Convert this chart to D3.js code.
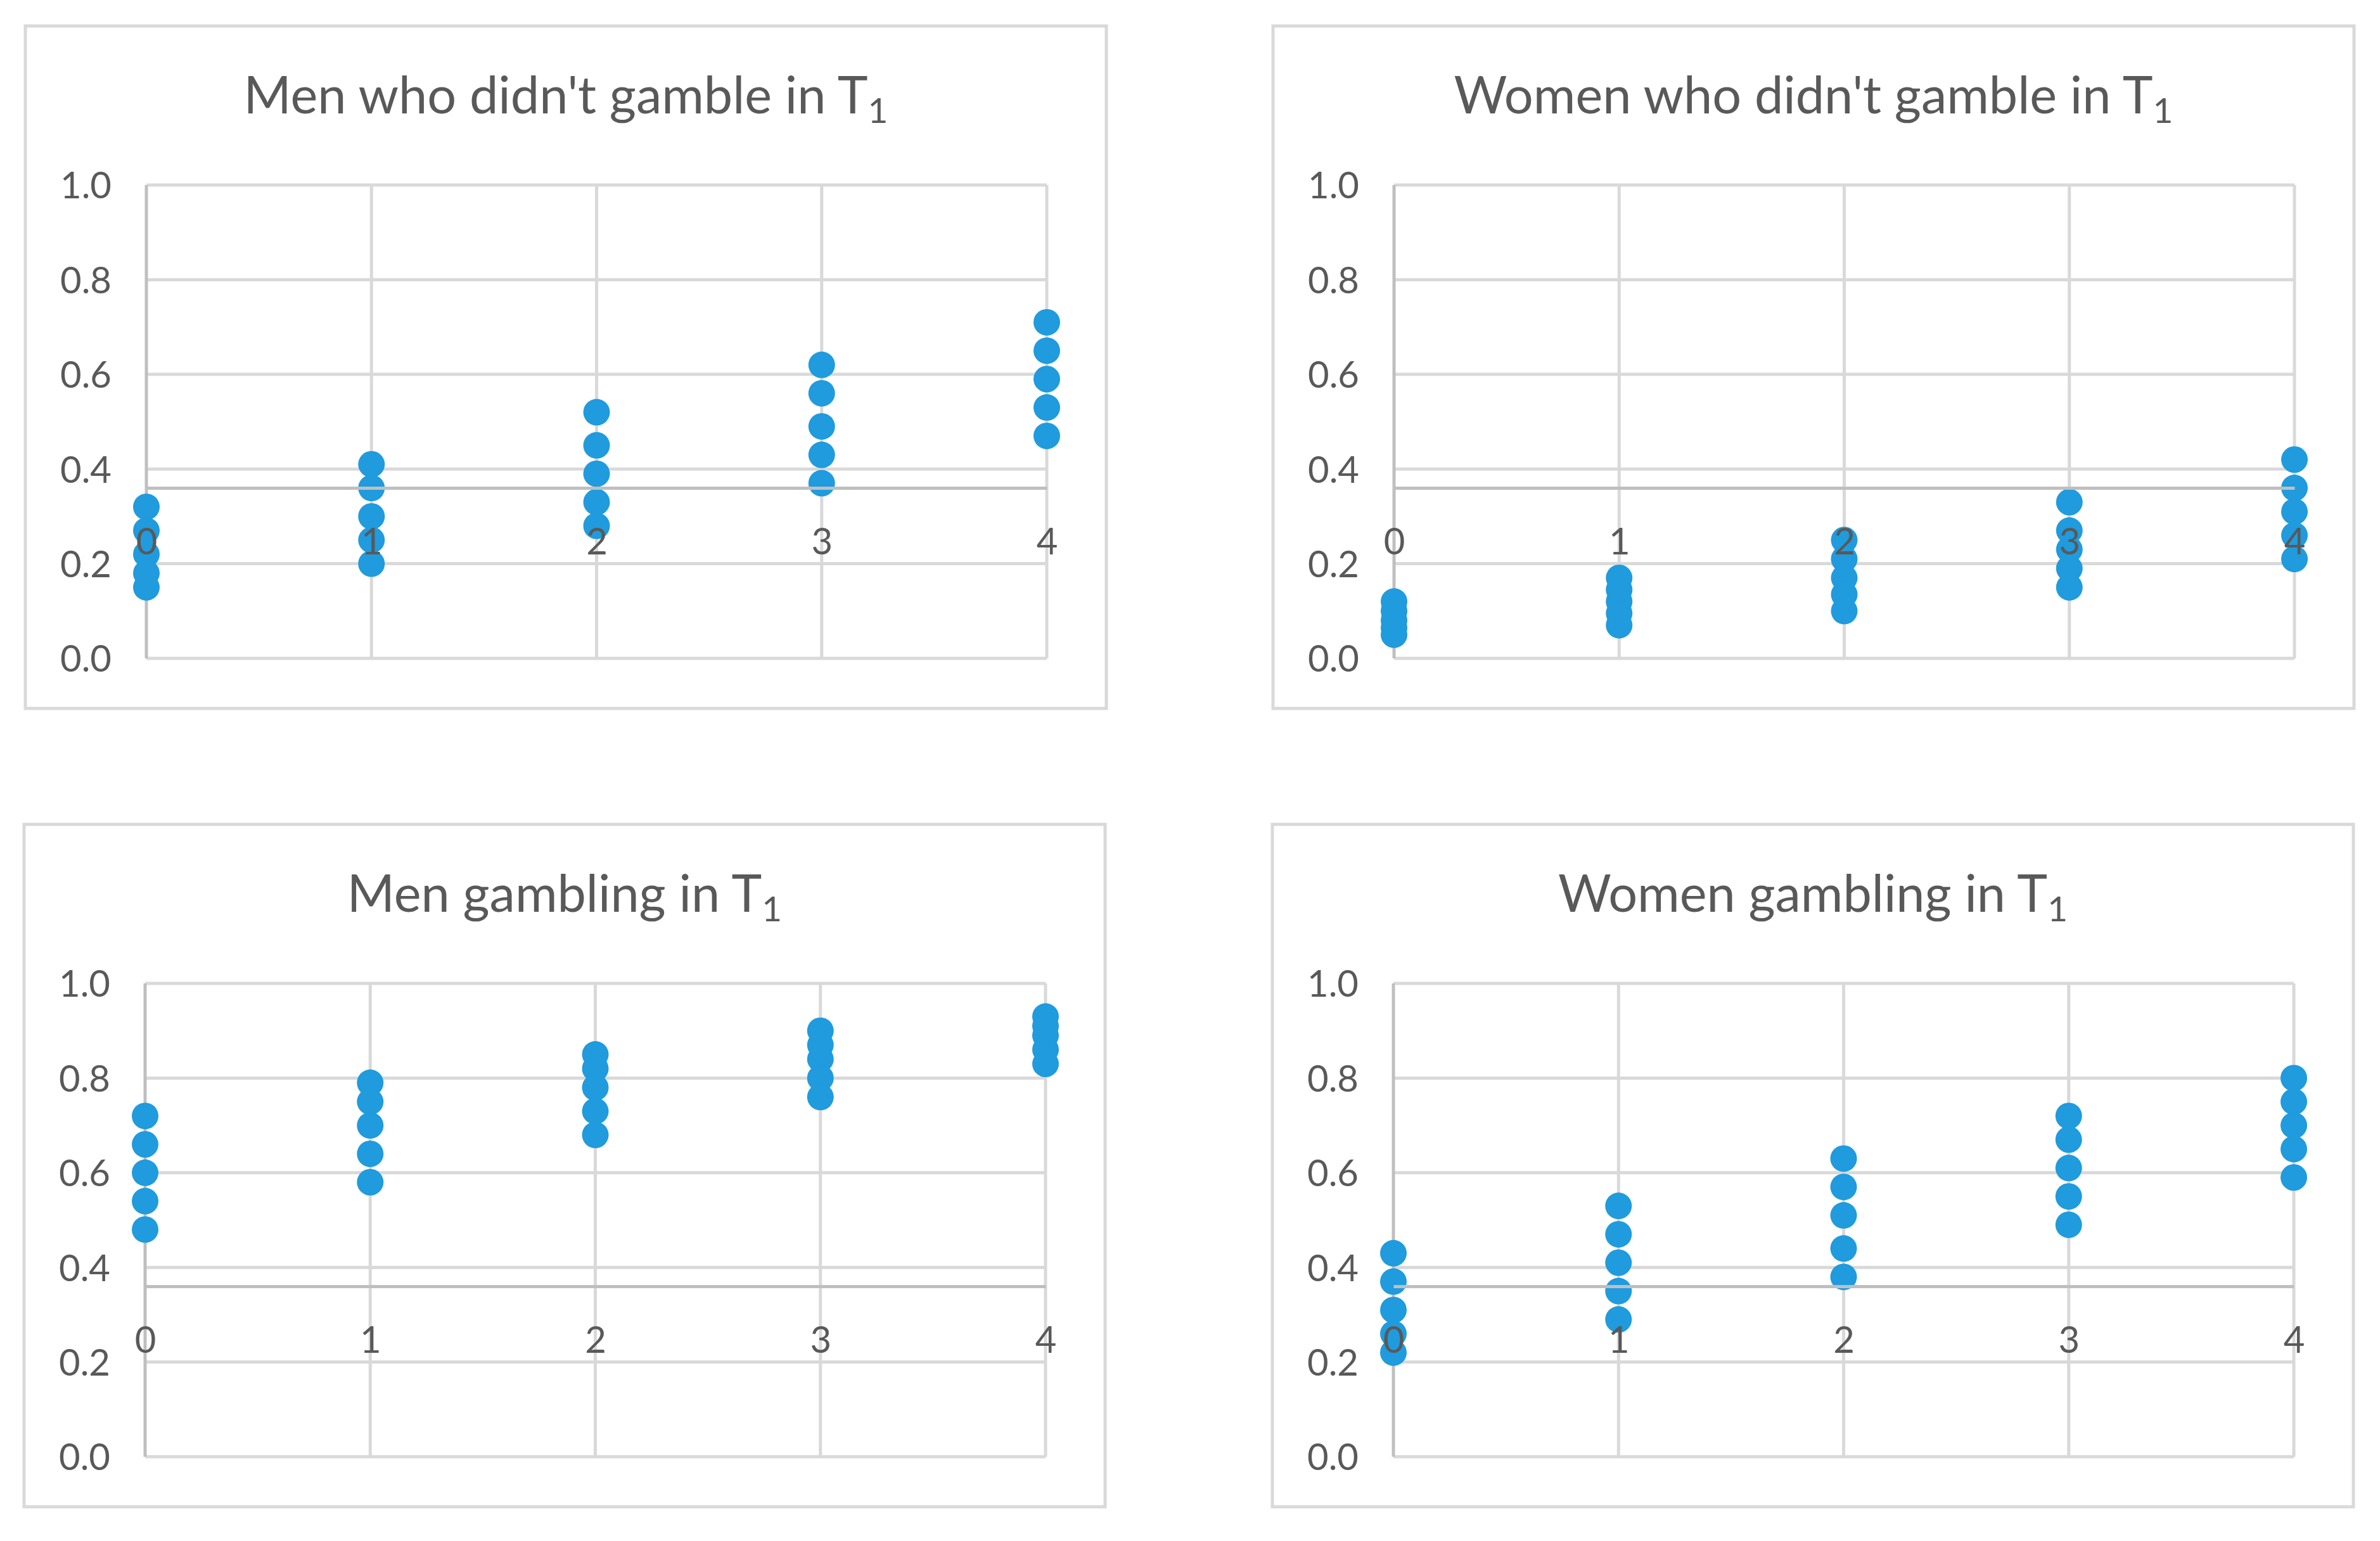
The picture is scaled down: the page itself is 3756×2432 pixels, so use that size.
<!DOCTYPE html>
<html>
<head>
<meta charset="utf-8">
<script src="https://cdn.jsdelivr.net/npm/d3@7"></script>
<style>
  body { margin: 0; background: #fff; }
  text { font-family: Lato, "Open Sans", sans-serif; fill: #595959; }
</style>
</head>
<body>
<svg id="chart"></svg>
<script>
// data
var categories = [0, 1, 2, 3, 4];
var yTicks = [0.0, 0.2, 0.4, 0.6, 0.8, 1.0];
var crossAt = 0.36; // horizontal axis crosses here

var titles = ["Men who didn't gamble in T", "Women who didn't gamble in T",
              "Men gambling in T", "Women gambling in T"];

var menNoGamble = [
  [0.32, 0.27, 0.22, 0.18, 0.15],
  [0.41, 0.36, 0.30, 0.25, 0.20],
  [0.52, 0.45, 0.39, 0.33, 0.28],
  [0.62, 0.56, 0.49, 0.43, 0.37],
  [0.71, 0.65, 0.59, 0.53, 0.47]
];
var womenNoGamble = [
  [0.12, 0.10, 0.08, 0.065, 0.05],
  [0.17, 0.145, 0.12, 0.095, 0.07],
  [0.25, 0.21, 0.17, 0.135, 0.10],
  [0.33, 0.27, 0.23, 0.19, 0.15],
  [0.42, 0.36, 0.31, 0.26, 0.21]
];
var menGamble = [
  [0.72, 0.66, 0.60, 0.54, 0.48],
  [0.79, 0.75, 0.70, 0.64, 0.58],
  [0.85, 0.82, 0.78, 0.73, 0.68],
  [0.90, 0.87, 0.84, 0.80, 0.76],
  [0.93, 0.91, 0.89, 0.86, 0.83]
];
var womenGamble = [
  [0.43, 0.37, 0.31, 0.26, 0.22],
  [0.53, 0.47, 0.41, 0.35, 0.29],
  [0.63, 0.57, 0.51, 0.44, 0.38],
  [0.72, 0.67, 0.61, 0.55, 0.49],
  [0.80, 0.75, 0.70, 0.65, 0.59]
];

var series = [menNoGamble, womenNoGamble, menGamble, womenGamble];

// layout
var W = 3756, H = 2432;
var boxW = 1706, boxH = 1077;
var boxPos = [[40, 41], [2009, 41], [38, 1301], [2008, 1301]];
var plot = { left: 191, top: 251, width: 1421, height: 747 };

var svg = d3.select("#chart")
  .attr("width", W)
  .attr("height", H);

svg.append("rect")
  .attr("width", W).attr("height", H)
  .attr("fill", "#fff");

series.forEach(function(data, i) {
  var g = svg.append("g")
    .attr("transform", "translate(" + boxPos[i][0] + "," + boxPos[i][1] + ")");

  // chart frame
  g.append("rect")
    .attr("width", boxW)
    .attr("height", boxH)
    .attr("fill", "#fff")
    .attr("stroke", "#d9d9d9")
    .attr("stroke-width", 5);

  // title with subscript
  var t = g.append("text")
    .attr("x", boxW / 2)
    .attr("y", 138)
    .attr("text-anchor", "middle")
    .style("font-size", "81px")
    .text(titles[i]);
  t.append("tspan")
    .attr("dy", 15)
    .style("font-size", "55px")
    .text("1");

  var x = d3.scaleLinear().domain([0, 4]).range([0, plot.width]);
  var y = d3.scaleLinear().domain([0, 1]).range([plot.height, 0]);

  var p = g.append("g")
    .attr("transform", "translate(" + plot.left + "," + plot.top + ")");

  // gridlines
  p.selectAll(".hgrid")
    .data(yTicks)
    .enter().append("line")
    .attr("x1", 0).attr("x2", plot.width)
    .attr("y1", function(d) { return y(d); })
    .attr("y2", function(d) { return y(d); })
    .attr("stroke", "#d9d9d9")
    .attr("stroke-width", 5);

  p.selectAll(".vgrid")
    .data(categories)
    .enter().append("line")
    .attr("x1", function(d) { return x(d); })
    .attr("x2", function(d) { return x(d); })
    .attr("y1", 0).attr("y2", plot.height)
    .attr("stroke", function(d) { return d === 0 ? "#bfbfbf" : "#d9d9d9"; })
    .attr("stroke-width", 5);

  // y axis labels
  var yAxis = p.append("g")
    .call(d3.axisLeft(y)
      .tickValues(yTicks)
      .tickFormat(d3.format(".1f"))
      .tickSize(0)
      .tickPadding(55));
  yAxis.select(".domain").remove();
  yAxis.selectAll("text")
    .attr("dy", "0.36em")
    .style("font-size", "58px")
    .style("font-family", "Lato, 'Open Sans', sans-serif")
    .attr("fill", "#595959");

  // x axis line crossing at 0.36
  var xAxis = p.append("g")
    .attr("transform", "translate(0," + y(crossAt) + ")")
    .call(d3.axisBottom(x)
      .tickValues(categories)
      .tickFormat(d3.format("d"))
      .tickSize(0)
      .tickSizeOuter(0));
  xAxis.select(".domain")
    .attr("stroke", "#bfbfbf")
    .attr("stroke-width", 5);

  // points
  var pts = [];
  data.forEach(function(vals, c) {
    vals.forEach(function(v) { pts.push({ x: categories[c], y: v }); });
  });
  p.selectAll(".dot")
    .data(pts)
    .enter().append("circle")
    .attr("cx", function(d) { return x(d.x); })
    .attr("cy", function(d) { return y(d.y); })
    .attr("r", 21)
    .attr("fill", "#1f9bde");

  // category labels drawn above the points
  xAxis.raise();
  xAxis.selectAll("text")
    .attr("y", 105)
    .attr("dy", 0)
    .style("font-size", "58px")
    .style("font-family", "Lato, 'Open Sans', sans-serif")
    .attr("fill", "#595959");
});
</script>
</body>
</html>
